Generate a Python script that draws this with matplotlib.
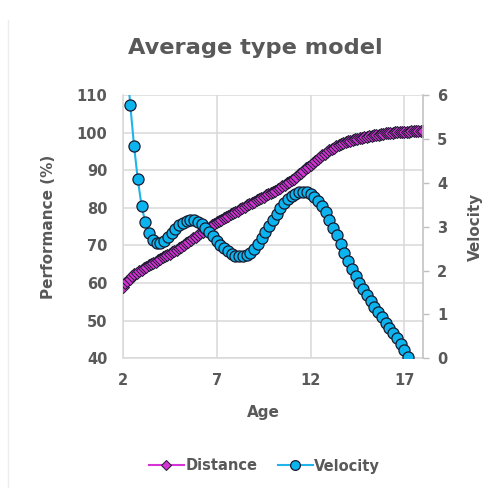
import numpy as np
import matplotlib
matplotlib.use("Agg")
import matplotlib.pyplot as plt
from matplotlib.lines import Line2D

# ---- data ----
distance_age = np.linspace(2, 18, 129)  # every 1.5 months
distance = [
    59.0, 59.9, 60.6, 61.2, 61.8, 62.3, 62.8, 63.2,
    63.6, 64.0, 64.3, 64.7, 65.0, 65.4, 65.7, 66.1,
    66.4, 66.8, 67.1, 67.5, 67.8, 68.2, 68.6, 68.9,
    69.3, 69.7, 70.1, 70.6, 71.0, 71.4, 71.9, 72.3,
    72.8, 73.2, 73.7, 74.1, 74.6, 75.0, 75.4, 75.8,
    76.2, 76.6, 76.9, 77.3, 77.6, 77.9, 78.3, 78.6,
    78.9, 79.3, 79.6, 80.0, 80.3, 80.7, 81.0, 81.4,
    81.7, 82.0, 82.4, 82.7, 83.0, 83.3, 83.7, 84.0,
    84.3, 84.6, 85.0, 85.3, 85.7, 86.1, 86.5, 86.9,
    87.3, 87.8, 88.3, 88.9, 89.4, 89.9, 90.5, 91.0,
    91.5, 92.0, 92.5, 93.0, 93.5, 94.0, 94.4, 94.9,
    95.3, 95.7, 96.0, 96.4, 96.7, 97.0, 97.2, 97.5,
    97.7, 97.9, 98.1, 98.2, 98.4, 98.5, 98.7, 98.8,
    98.9, 99.0, 99.2, 99.3, 99.4, 99.5, 99.6, 99.7,
    99.8, 99.9, 99.9, 100.0, 100.1, 100.1, 100.2, 100.2,
    100.3, 100.3, 100.3, 100.4, 100.4, 100.4, 100.5, 100.5,
    100.5,
]

velocity_age = np.linspace(2.0, 17.2, 77)
velocity = [
    8.2, 6.8, 5.78, 4.85, 4.08, 3.48, 3.10, 2.85, 2.70, 2.63,
    2.62, 2.68, 2.76, 2.86, 2.95, 3.03, 3.09, 3.14, 3.16, 3.15,
    3.11, 3.05, 2.97, 2.88, 2.78, 2.68, 2.59, 2.51, 2.44, 2.38,
    2.34, 2.32, 2.32, 2.35, 2.41, 2.50, 2.61, 2.74, 2.87, 3.01,
    3.15, 3.29, 3.42, 3.54, 3.63, 3.70, 3.75, 3.78, 3.79, 3.78,
    3.74, 3.68, 3.59, 3.47, 3.33, 3.16, 2.98, 2.80, 2.61, 2.41,
    2.22, 2.04, 1.87, 1.72, 1.58, 1.44, 1.30, 1.17, 1.05, 0.93,
    0.81, 0.70, 0.58, 0.46, 0.33, 0.19, 0.03,
]

x_ticks = [2, 7, 12, 17]
left_ticks = [40, 50, 60, 70, 80, 90, 100, 110]
right_ticks = [0, 1, 2, 3, 4, 5, 6]

title = "Average type model"
xlabel = "Age"
ylabel_left = "Performance (%)"
ylabel_right = "Velocity"
series_names = ["Distance", "Velocity"]

# ---- style ----
gray = "#595959"
grid_c = "#d9d9d9"
mag_line = "#d633d6"
mag_fill = "#d633d6"
blue_line = "#1fb4ea"
blue_fill = "#0bb4ee"
edge = "#1a1a2e"

fig = plt.figure(figsize=(4.99, 4.88), dpi=100)
fig.patch.set_facecolor("white")
ax = fig.add_axes([0.246, 0.266, 0.602, 0.539])
ax.set_xlim(2, 18)
ax.set_ylim(40, 110)
ax.set_xticks(x_ticks)
ax.set_yticks(left_ticks)
ax.grid(True, color=grid_c, lw=1.1)
ax.set_axisbelow(True)
for s in ["top", "right"]:
    ax.spines[s].set_visible(False)
for s in ["left", "bottom"]:
    ax.spines[s].set_color(grid_c)
    ax.spines[s].set_linewidth(1.1)
ax.tick_params(length=0, colors=gray, labelsize=10.5, pad=11)
for lab in ax.get_xticklabels() + ax.get_yticklabels():
    lab.set_fontweight("bold")

ax.plot(distance_age, distance, color=mag_line, lw=1.5, marker="D",
        markersize=5.8, markerfacecolor=mag_fill, markeredgecolor=edge,
        markeredgewidth=0.7, zorder=3)

ax2 = ax.twinx()
ax2.set_ylim(0, 6)
ax2.set_yticks(right_ticks)
for s in ["top", "left", "bottom"]:
    ax2.spines[s].set_visible(False)
ax2.spines["right"].set_color("#bfbfbf")
ax2.spines["right"].set_linewidth(1.1)
ax2.tick_params(axis="y", length=4, width=1, color="#bfbfbf",
                labelcolor=gray, labelsize=10.5, pad=6)
for lab in ax2.get_yticklabels():
    lab.set_fontweight("bold")
ax2.plot(velocity_age, velocity, color=blue_line, lw=1.5, marker="o",
         markersize=8, markerfacecolor=blue_fill, markeredgecolor=edge,
         markeredgewidth=0.9, zorder=3)

fig.text(0.512, 1 - 48 / 488, title, ha="center", va="center",
         fontsize=16.2, fontweight="bold", color=gray)
fig.text(0.527, 1 - 412 / 488, xlabel, ha="center", va="center",
         fontsize=11, fontweight="bold", color=gray)
fig.text(49 / 499, 1 - 227 / 488, ylabel_left, ha="center", va="center",
         rotation=90, fontsize=11, fontweight="bold", color=gray)
fig.text(475 / 499, 1 - 227 / 488, ylabel_right, ha="center", va="center",
         rotation=90, fontsize=11, fontweight="bold", color=gray)

handles = [
    Line2D([], [], color=mag_line, lw=1.5, marker="D", markersize=5,
           markerfacecolor=mag_fill, markeredgecolor=edge, markeredgewidth=0.7),
    Line2D([], [], color=blue_line, lw=1.5, marker="o", markersize=7,
           markerfacecolor=blue_fill, markeredgecolor=edge, markeredgewidth=0.9),
]
leg = fig.legend(handles, series_names, loc="center", bbox_to_anchor=(0.53, 1 - 466 / 488),
                 ncol=2, frameon=False, handlelength=2.4, handletextpad=0.1,
                 columnspacing=1.4, prop={"weight": "bold", "size": 10.5})
for t in leg.get_texts():
    t.set_color(gray)

fig.add_artist(Line2D([8 / 499, 8 / 499], [0, 1 - 20 / 488], color="#ececec", lw=1))

fig.savefig("out.png", dpi=100, facecolor="white")
